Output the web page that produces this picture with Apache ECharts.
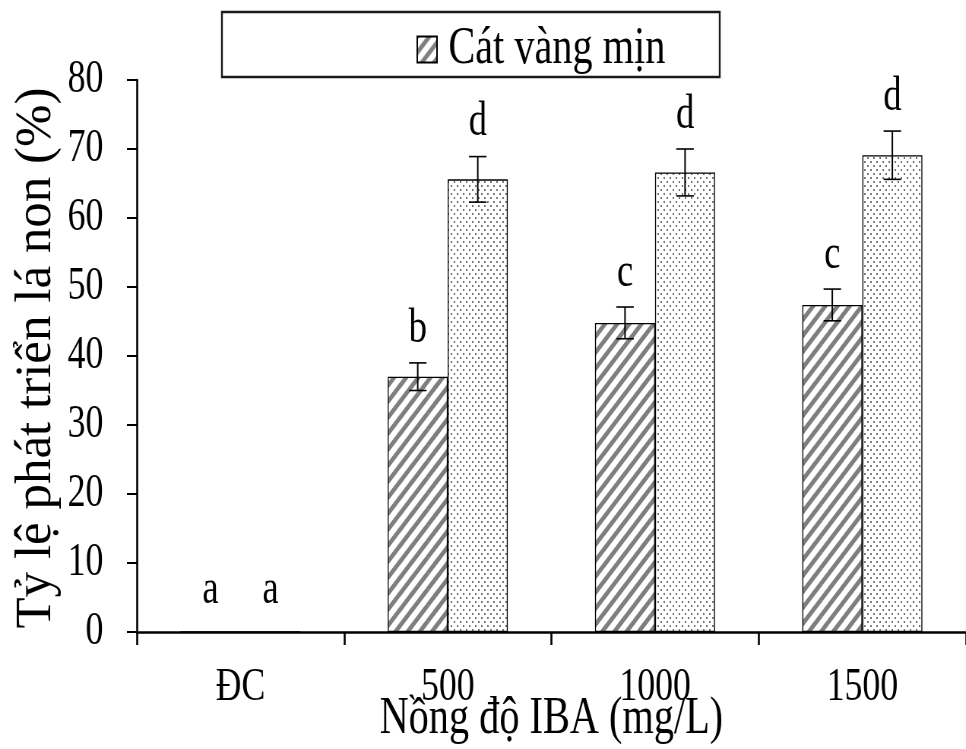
<!DOCTYPE html>
<html>
<head>
<meta charset="utf-8">
<script src="https://cdn.jsdelivr.net/npm/echarts@6/dist/echarts.min.js"></script>
<style>
  html, body { margin: 0; padding: 0; background: #fff; overflow: hidden; width: 966px; height: 749px; }
  #chart { width: 1271px; height: 749px; transform: scaleX(0.76); transform-origin: 0 0; }
</style>
</head>
<body>
<div id="chart"></div>
<script>
// ---- data ----
const categories = ['ĐC', '500', '1000', '1500'];
const seriesNames = ['Cát vàng mịn', 'Giá thể 2'];
const hatchValues = [0, 37.0, 44.8, 47.4];
const hatchErrors = [0, 2.0, 2.3, 2.3];
const hatchLetters = ['a', 'b', 'c', 'c'];
const dotValues = [0, 65.6, 66.6, 69.1];
const dotErrors = [0, 3.3, 3.4, 3.5];
const dotLetters = ['a', 'd', 'd', 'd'];
const yMin = 0, yMax = 80, yInterval = 10;
const xAxisTitle = 'Nồng độ IBA (mg/L)';
const yAxisTitle = 'Tỷ lệ phát triển lá non (%)';

// ---- styles ----
const FONT = '"Liberation Serif", "Times New Roman", serif';
const SQUEEZE = 0.76;
const BAR_W = 79;

function makeHatch() {
  const c = document.createElement('canvas');
  c.width = 16; c.height = 16;
  const g = c.getContext('2d');
  g.fillStyle = '#fff'; g.fillRect(0, 0, 16, 16);
  g.strokeStyle = '#7f7f7f'; g.lineWidth = 5;
  for (let k = -1; k <= 1; k++) {
    g.beginPath();
    g.moveTo(-4 + k * 16, 20);
    g.lineTo(20 + k * 16, -4);
    g.stroke();
  }
  return c;
}
function makeDots() {
  const c = document.createElement('canvas');
  c.width = 8; c.height = 8;
  const g = c.getContext('2d');
  g.fillStyle = '#fff'; g.fillRect(0, 0, 8, 8);
  g.fillStyle = '#707070';
  g.fillRect(1, 1, 2, 2);
  g.fillRect(5, 5, 2, 2);
  return c;
}

const hatchFill = { image: makeHatch(), repeat: 'repeat' };
const dotFill = { image: makeDots(), repeat: 'repeat' };

function errData(vals, errs, letters) {
  return vals.map((v, i) => [i, v, errs[i], letters[i]]);
}

function makeErrRender(side) {
  return function (params, api) {
    const idx = api.value(0), v = api.value(1), e = api.value(2);
    const letter = api.value(3);
    const base = api.coord([idx, v]);
    const x = base[0] + side * BAR_W / 2;
    const top = api.coord([idx, v + e])[1];
    const bot = api.coord([idx, v - e])[1];
    const children = [];
    if (e > 0) {
      children.push({ type: 'line', shape: { x1: x, y1: top, x2: x, y2: bot }, style: { stroke: '#000', lineWidth: 2 } });
      children.push({ type: 'line', shape: { x1: x - 11.5, y1: top, x2: x + 11.5, y2: top }, style: { stroke: '#000', lineWidth: 1.6 } });
      children.push({ type: 'line', shape: { x1: x - 11.5, y1: bot, x2: x + 11.5, y2: bot }, style: { stroke: '#000', lineWidth: 1.6 } });
    }
    children.push({
      type: 'text',
      style: {
        x: x, y: top - (e > 0 ? 34 : 42), text: letter,
        font: '48px ' + FONT, fill: '#000',
        textAlign: 'center', textVerticalAlign: 'middle'
      }
    });
    return { type: 'group', children: children };
  };
}

const chart = echarts.init(document.getElementById('chart'), null, { renderer: 'canvas' });
chart.setOption({
  animation: false,
  backgroundColor: '#fff',
  grid: { left: 180, right: 0, top: 80, height: 552, containLabel: false, outerBoundsMode: 'none' },
  graphic: [
    {
      type: 'rect',
      shape: { x: 292, y: 12, width: 655, height: 65 },
      style: { fill: '#fff', stroke: '#1a1a1a', lineWidth: 2.4 },
      z: 0
    },
    {
      type: 'text',
      x: 48, y: 358,
      rotation: Math.PI / 2,
      scaleY: 1 / SQUEEZE,
      style: {
        text: yAxisTitle,
        font: '51px ' + FONT, fill: '#000',
        textAlign: 'center', textVerticalAlign: 'middle'
      },
      z: 5
    }
  ],
  legend: {
    data: [seriesNames[0]],
    icon: 'rect',
    left: 543, top: 18,
    itemWidth: 26, itemHeight: 26,
    textStyle: { fontFamily: FONT, fontSize: 53, color: '#000', padding: [0, 0, 0, 10] },
    z: 5
  },
  xAxis: {
    type: 'category',
    data: categories,
    name: xAxisTitle,
    nameLocation: 'middle',
    nameGap: 61,
    nameMoveOverlap: false,
    nameTextStyle: { fontFamily: FONT, fontSize: 53, color: '#000' },
    axisLine: { lineStyle: { color: '#000', width: 2.6 } },
    axisTick: { show: true, length: 13, lineStyle: { color: '#000', width: 2.6 } },
    axisLabel: { fontFamily: FONT, fontSize: 47, color: '#000', margin: 32 },
    splitLine: { show: false }
  },
  yAxis: {
    type: 'value',
    min: yMin, max: yMax, interval: yInterval,
    axisLine: { show: true, lineStyle: { color: '#000', width: 2.6 } },
    axisTick: { show: true, length: 13, lineStyle: { color: '#000', width: 2 } },
    axisLabel: { fontFamily: FONT, fontSize: 47, color: '#000', margin: 44 },
    splitLine: { show: false }
  },
  series: [
    {
      name: seriesNames[0], type: 'bar', data: hatchValues,
      barWidth: BAR_W, barGap: '0%',
      itemStyle: { color: hatchFill, borderColor: '#000', borderWidth: 1.3 }
    },
    {
      name: seriesNames[1], type: 'bar', data: dotValues,
      barWidth: BAR_W, barGap: '0%',
      itemStyle: { color: dotFill, borderColor: '#000', borderWidth: 1.3 }
    },
    {
      type: 'custom', name: 'err1', z: 10, silent: true,
      renderItem: makeErrRender(-1),
      data: errData(hatchValues, hatchErrors, hatchLetters),
      encode: { x: 0, y: 1 }
    },
    {
      type: 'custom', name: 'err2', z: 10, silent: true,
      renderItem: makeErrRender(1),
      data: errData(dotValues, dotErrors, dotLetters),
      encode: { x: 0, y: 1 }
    }
  ]
});
</script>
</body>
</html>
